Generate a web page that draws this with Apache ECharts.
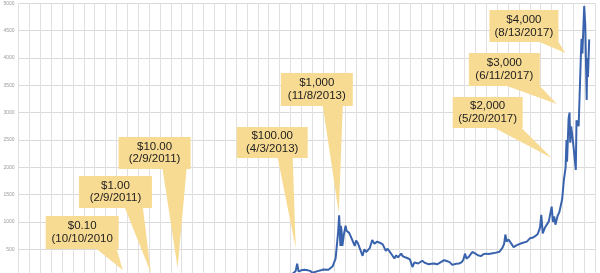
<!DOCTYPE html>
<html>
<head>
<meta charset="utf-8">
<script src="https://cdn.jsdelivr.net/npm/echarts@6/dist/echarts.min.js"></script>
<style>
html,body{margin:0;padding:0;background:#fff;}
#chart{width:600px;height:273px;}
</style>
</head>
<body>
<div id="chart"></div>
<script>
// ---- DATA ----
const priceDates = [
 '2010-07-17','2010-09-01','2010-10-10','2010-11-07','2010-12-01','2011-01-01','2011-02-09','2011-03-01',
 '2011-04-01','2011-05-01','2011-06-08','2011-07-01','2011-08-01','2011-09-01','2011-10-01','2011-11-18',
 '2012-01-01','2012-03-01','2012-05-01','2012-07-01','2012-08-16','2012-10-01','2012-12-01','2013-01-15',
 '2013-02-15','2013-03-01','2013-03-20','2013-04-01','2013-04-09','2013-04-17','2013-05-01','2013-05-20',
 '2013-06-01','2013-06-20','2013-07-05','2013-08-01','2013-08-20','2013-09-01','2013-10-01','2013-10-25',
 '2013-11-10','2013-11-18','2013-11-24','2013-11-30','2013-12-04','2013-12-07','2013-12-10','2013-12-14',
 '2013-12-18','2013-12-26','2014-01-05','2014-01-10','2014-01-15','2014-01-25','2014-02-01','2014-02-10',
 '2014-02-25','2014-03-05','2014-03-15','2014-03-25','2014-04-10','2014-04-20','2014-04-30','2014-05-10',
 '2014-05-20','2014-06-03','2014-06-15','2014-07-01','2014-07-15','2014-08-01','2014-08-18','2014-08-28',
 '2014-09-05','2014-09-21','2014-10-05','2014-10-15','2014-10-25','2014-11-12','2014-11-22','2014-12-01',
 '2014-12-15','2014-12-31','2015-01-08','2015-01-14','2015-01-25','2015-02-05','2015-02-15','2015-03-10',
 '2015-03-25','2015-04-15','2015-05-01','2015-05-15','2015-06-01','2015-06-15','2015-07-10','2015-07-25',
 '2015-08-10','2015-08-25','2015-09-15','2015-10-01','2015-10-15','2015-10-25','2015-11-04','2015-11-12',
 '2015-11-25','2015-12-15','2015-12-28','2016-01-15','2016-02-01','2016-02-15','2016-03-01','2016-03-15',
 '2016-04-15','2016-05-15','2016-06-01','2016-06-10','2016-06-17','2016-06-24','2016-07-05','2016-07-15',
 '2016-08-02','2016-08-20','2016-09-15','2016-10-15','2016-11-01','2016-11-15','2016-12-01','2016-12-15',
 '2016-12-28','2017-01-04','2017-01-12','2017-01-25','2017-02-15','2017-03-03','2017-03-10','2017-03-17',
 '2017-03-24','2017-04-05','2017-04-15','2017-05-01','2017-05-10','2017-05-20','2017-05-25','2017-05-28',
 '2017-06-06','2017-06-11','2017-06-15','2017-06-20','2017-07-01','2017-07-16','2017-07-20','2017-08-01',
 '2017-08-13','2017-08-17','2017-08-22','2017-09-01','2017-09-07','2017-09-15','2017-09-18','2017-09-22',
 '2017-09-29'
];
const priceValues = [
 0.05,0.06,0.10,0.36,0.23,0.30,1.00,0.90,
 0.77,3.5,29.6,15,13,8,5,2.1,
 5,4.9,5,6.7,13.5,12.4,12.6,14,
 27,34,65,104,235,90,115,125,
 120,105,70,100,115,130,125,190,
 330,600,800,1120,1100,560,930,820,
 560,760,930,840,870,800,830,680,
 560,660,610,580,380,500,450,440,
 520,670,600,640,620,590,470,510,
 480,400,330,390,350,420,370,380,
 340,315,280,175,260,225,240,290,
 250,225,235,240,225,250,300,285,
 265,215,235,240,260,300,420,330,
 360,450,430,390,375,410,420,415,
 430,455,530,600,770,640,680,660,
 540,575,610,640,700,710,740,780,
 900,1130,790,900,1010,1280,1000,1100,
 950,1110,1180,1420,1760,2000,2500,2100,
 2900,3000,2450,2750,2450,1950,2860,2750,
 4000,4350,4080,4950,4600,3230,4000,3650,
 4340
];

const calloutPrices = ['$0.10','$1.00','$10.00','$100.00','$1,000','$2,000','$3,000','$4,000'];
const calloutDateTexts = ['(10/10/2010','(2/9/2011)','(2/9/2011)','(4/3/2013)','(11/8/2013)','(5/20/2017)','(6/11/2017)','(8/13/2017)'];
const calloutTipDates = ['2010-08-07','2011-01-12','2011-06-10','2013-04-01','2013-11-28','2017-03-03','2017-04-01','2017-05-19'];
const calloutTipValues = [120, 66, 157, 523, 1163, 2170, 3157, 4090];

const yMin = 0, yMax = 5000, yStep = 500;
const xStart = '2009-01-01', xEnd = '2017-11-01', xMonthSpan = 106, xGridMonths = 2;

// ---- LAYOUT (pixel offsets of each callout box relative to its tip) ----
// [boxLeft, boxRight, boxTop, boxBottom, baseLeft, baseRight]
const calloutLayout = [
 [-77,-4,-54,-21,-26,-6],
 [-72, 1,-97,-65,-26,-8],
 [-59,13,-131,-99,-15,9],
 [-59,12,-121,-90,-18,-3],
 [-58,14,-140,-107,-16,4],
 [-99,-29,-61,-30,-57,-30],
 [-88,-17,-51,-18,-50,-17],
 [-76,-7,-43,-11,-26,-7]
];

const chart = echarts.init(document.getElementById('chart'), null, {renderer:'canvas'});
const lineData = priceDates.map((d,i)=>[d, priceValues[i]]);
const calloutData = calloutTipDates.map((d,i)=>[d, calloutTipValues[i], i]);

const option = {
  animation:false,
  backgroundColor:'#fff',
  grid:{left:18.5, right:4.9, top:3.3, bottom:-3.6, containLabel:false, outerBoundsMode:'none'},
  xAxis:[
    {type:'time', min:xStart, max:xEnd, show:true,
     axisLine:{show:false}, axisTick:{show:false}, axisLabel:{show:false}, splitLine:{show:false}},
    {type:'value', min:0, max:xMonthSpan, interval:xGridMonths, show:true,
     axisLine:{show:false}, axisTick:{show:false}, axisLabel:{show:false},
     splitLine:{show:true, lineStyle:{color:'#e0e0e0', width:1}}}
  ],
  yAxis:{type:'value', min:yMin, max:yMax, interval:yStep,
    axisLine:{show:false}, axisTick:{show:false},
    axisLabel:{color:'#9a9a9a', fontSize:5, margin:4, fontFamily:'Liberation Sans',
      formatter:function(v){return String(v);}},
    splitLine:{show:true, lineStyle:{color:'#dadada', width:1}}},
  series:[
    {type:'line', xAxisIndex:0, data:lineData, showSymbol:false, symbol:'none',
     lineStyle:{color:'#3a63ad', width:2}, z:3},
    {type:'custom', xAxisIndex:0, data:calloutData, clip:false, z:5,
     renderItem:function(params, api){
       const idx = api.value(2);
       const tip = api.coord([api.value(0), api.value(1)]);
       const L = calloutLayout[idx];
       const x0 = tip[0]+L[0], x1 = tip[0]+L[1], y0 = tip[1]+L[2], y1 = tip[1]+L[3];
       const b0 = tip[0]+L[4], b1 = tip[0]+L[5];
       return {
         type:'group',
         children:[
           {type:'polygon', shape:{points:[[x0,y0],[x1,y0],[x1,y1],[b1,y1],[tip[0],tip[1]],[b0,y1],[x0,y1]]},
            style:{fill:'#f8db93', stroke:null}},
           {type:'text', style:{text:calloutPrices[idx]+'\n'+calloutDateTexts[idx],
             x:(x0+x1)/2, y:(y0+y1)/2, align:'center', verticalAlign:'middle',
             fontSize:11.5, fontFamily:'Liberation Sans', lineHeight:12.6, fill:'#222'}}
         ]
       };
     }}
  ]
};
chart.setOption(option);
</script>
</body>
</html>
